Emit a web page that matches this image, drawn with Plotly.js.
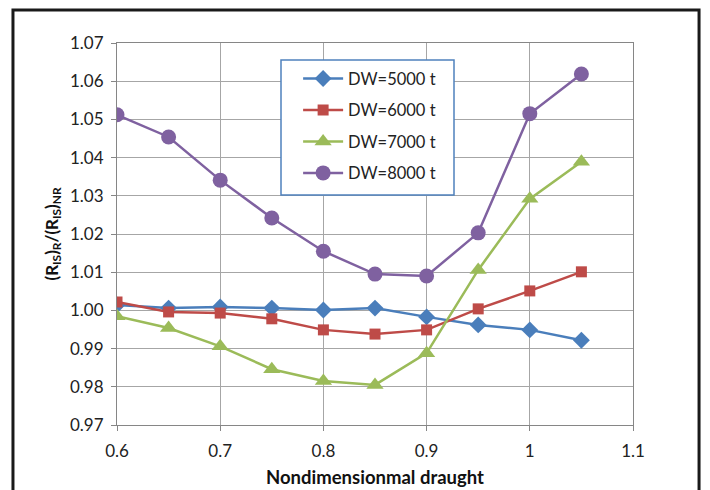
<!DOCTYPE html>
<html>
<head>
<meta charset="utf-8">
<script src="https://cdn.plot.ly/plotly-3.0.1.min.js"></script>
<style>html,body{margin:0;padding:0;background:#fff;}#chart{width:710px;height:490px;}</style>
</head>
<body>
<div id="chart"></div>
<script>
var draught = [0.6, 0.65, 0.7, 0.75, 0.8, 0.85, 0.9, 0.95, 1.0, 1.05];
var dw5000 = [1.0014, 1.0006, 1.0009, 1.0006, 1.0001, 1.0006, 0.9983, 0.9962, 0.9949, 0.9922];
var dw6000 = [1.0022, 0.9996, 0.9993, 0.9978, 0.9949, 0.9938, 0.9949, 1.0004, 1.0051, 1.0101];
var dw7000 = [0.9985, 0.9954, 0.9906, 0.9846, 0.9815, 0.9805, 0.9888, 1.0106, 1.0292, 1.0389];
var dw8000 = [1.0512, 1.0454, 1.0341, 1.0242, 1.0155, 1.0095, 1.0090, 1.0203, 1.0515, 1.0619];
var names = ["DW=5000 t", "DW=6000 t", "DW=7000 t", "DW=8000 t"];

var colors = ["#4A7EBB", "#BE4B48", "#9BBB59", "#7F61A0"];
var symbols = ["diamond", "square", "triangle-up", "circle"];
var sizes = [13, 11, 15, 15];
var series = [dw5000, dw6000, dw7000, dw8000];

var traces = series.map(function (s, i) {
  return {
    x: draught, y: s, name: names[i], type: "scatter", mode: "lines+markers",
    legendgroup: "g" + i,
    line: {color: colors[i], width: 2.5},
    marker: {symbol: symbols[i], size: sizes[i], color: colors[i]}
  };
});

var fam = "Lato, 'Liberation Sans', sans-serif";
var axisFont = {family: fam, size: 17, color: "#222"};

var layout = {
  width: 710, height: 490,
  margin: {l: 117, r: 77, t: 43, b: 65},
  paper_bgcolor: "#fff", plot_bgcolor: "#fff",
  showlegend: true,
  legend: {
    x: 0.351, y: 0.952, xanchor: "left", yanchor: "top",
    borderwidth: 0, bgcolor: "rgba(0,0,0,0)",
    font: {family: fam, size: 16.5, color: "#222"},
    traceorder: "grouped", tracegroupgap: 7, itemwidth: 40
  },
  xaxis: {
    range: [0.6, 1.1], dtick: 0.1, tick0: 0.6,
    showgrid: true, gridcolor: "#A6A6A6", gridwidth: 1,
    showline: true, linecolor: "#868686", linewidth: 1, mirror: true,
    ticks: "outside", ticklen: 5, tickcolor: "#868686",
    tickfont: axisFont, zeroline: false, ticklabelstandoff: 6,
    title: {text: "<b>Nondimensionmal draught</b>", font: {family: fam, size: 18.5, color: "#111"}, standoff: 10}
  },
  yaxis: {
    range: [0.97, 1.07], dtick: 0.01, tick0: 0.97, tickformat: ".2f",
    showgrid: true, gridcolor: "#A6A6A6", gridwidth: 1,
    showline: true, linecolor: "#868686", linewidth: 1, mirror: true,
    ticks: "outside", ticklen: 5, tickcolor: "#868686",
    tickfont: axisFont, zeroline: false, ticklabelstandoff: 4,
    title: {text: "<b>(R<sub>IS</sub>)<sub>R</sub>/(R<sub>IS</sub>)<sub>NR</sub></b>", font: {family: fam, size: 17, color: "#111"}, standoff: 7}
  },
  shapes: [{
    type: "rect", xref: "paper", yref: "paper",
    x0: -0.2016, x1: 1.128, y0: -0.19, y1: 1.0864,
    line: {color: "#1a1a1a", width: 3}, fillcolor: "rgba(0,0,0,0)", layer: "below"
  }, {
    type: "rect", xref: "paper", yref: "paper",
    x0: (281 - 117) / 516, x1: (454 - 117) / 516,
    y0: (425 - 195) / 382, y1: (425 - 60) / 382,
    line: {color: "#4F81BD", width: 1.5}, fillcolor: "#ffffff", layer: "above"
  }]
};

Plotly.newPlot("chart", traces, layout, {displayModeBar: false, staticPlot: true});
</script>
</body>
</html>
